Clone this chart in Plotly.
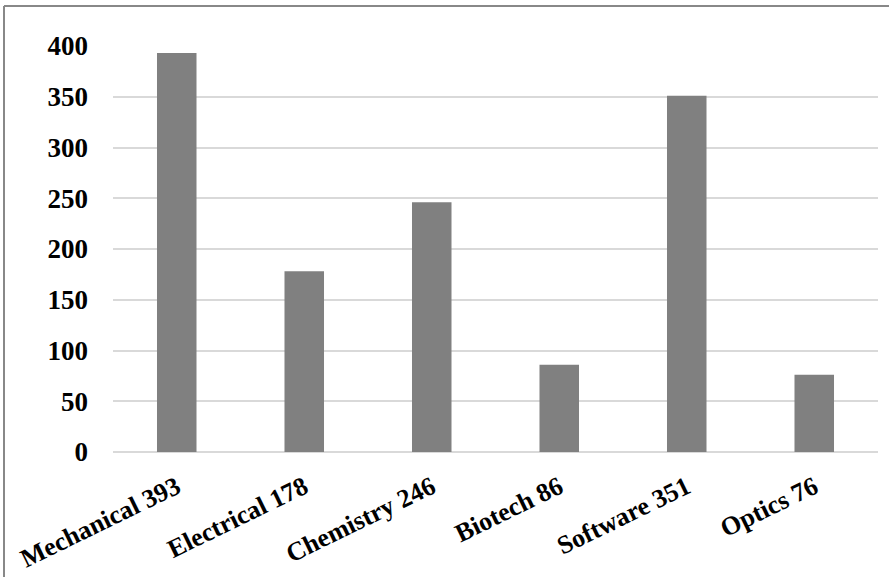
import plotly.graph_objects as go

categories = ["Mechanical 393", "Electrical 178", "Chemistry 246", "Biotech 86", "Software 351", "Optics 76"]
values = [393, 178, 246, 86, 351, 76]
y_ticks = [0, 50, 100, 150, 200, 250, 300, 350, 400]

L, R, T, B = 113, 11, 46, 125
W, H = 889, 577
pw, ph = W - L - R, H - T - B

def px(x):
    return (x - L) / pw

def py(y):
    return (H - B - y) / ph

fig = go.Figure(go.Bar(x=categories, y=values, marker=dict(color="#808080", line=dict(width=0)), width=0.31))

fig.update_layout(
    width=W, height=H,
    margin=dict(l=L, r=R, t=T, b=B, autoexpand=False),
    plot_bgcolor="white", paper_bgcolor="white",
    showlegend=False,
    font=dict(family="Liberation Serif", size=26, color="black"),
    xaxis=dict(tickangle=-26, tickfont=dict(family="Liberation Serif", size=26, color="black", weight="bold"),
               showgrid=False, showline=False, ticks="", ticklabelstandoff=14, automargin=False),
    yaxis=dict(range=[0, 400], tickvals=y_ticks, tickfont=dict(family="Liberation Serif", size=27, color="black", weight="bold"),
               showgrid=True, gridcolor="#d9d9d9", gridwidth=2, zeroline=True, zerolinecolor="#d9d9d9", zerolinewidth=2,
               showline=False, ticks="", ticklabelstandoff=24, automargin=False),
    shapes=[
        dict(type="line", xref="paper", yref="paper", x0=px(4), x1=px(889), y0=py(6), y1=py(6), line=dict(color="#888888", width=2)),
        dict(type="line", xref="paper", yref="paper", x0=px(4), x1=px(4), y0=py(6), y1=py(577), line=dict(color="#888888", width=2)),
    ],
)

fig.write_html("out.html", config={"displayModeBar": False},
               post_script="document.body.style.margin='0';document.body.style.overflow='hidden';")
